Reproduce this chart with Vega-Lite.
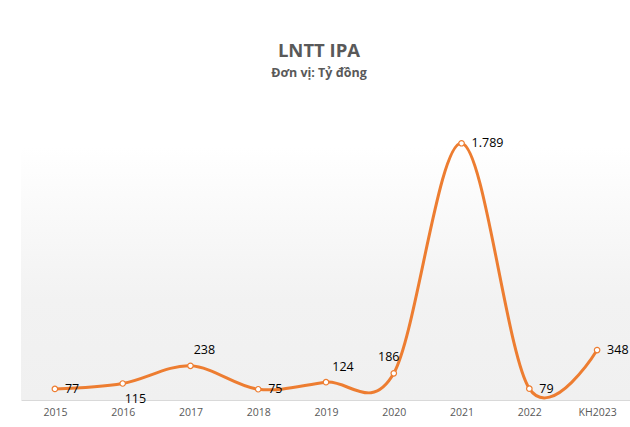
{
  "$schema": "https://vega.github.io/schema/vega-lite/v6.json",
  "width": 610,
  "height": 287,
  "autosize": {"type": "none"},
  "padding": {"left": 21, "top": 113, "right": 0, "bottom": 27},
  "background": "#ffffff",
  "config": {
    "view": {
      "stroke": null,
      "fill": {
        "gradient": "linear",
        "x1": 0, "y1": 0, "x2": 0, "y2": 1,
        "stops": [
          {"offset": 0, "color": "#ffffff"},
          {"offset": 0.12, "color": "#ffffff"},
          {"offset": 0.65, "color": "#f2f2f2"},
          {"offset": 1, "color": "#f0f0f0"}
        ]
      }
    },
    "font": "Open Sans"
  },
  "title": {
    "text": "LNTT IPA",
    "subtitle": "Đơn vị: Tỷ đồng",
    "anchor": "middle",
    "dx": -7,
    "offset": 34,
    "font": "Open Sans",
    "fontSize": 18.5,
    "fontWeight": "bold",
    "color": "#595959",
    "subtitleFont": "Open Sans",
    "subtitleFontSize": 12.5,
    "subtitleFontWeight": "bold",
    "subtitleColor": "#595959",
    "subtitlePadding": 6
  },
  "data": {
    "values": [
      {"year": "2015", "value": 77, "label": "77"},
      {"year": "2016", "value": 115, "label": "115"},
      {"year": "2017", "value": 238, "label": "238"},
      {"year": "2018", "value": 75, "label": "75"},
      {"year": "2019", "value": 124, "label": "124"},
      {"year": "2020", "value": 186, "label": "186"},
      {"year": "2021", "value": 1789, "label": "1.789"},
      {"year": "2022", "value": 79, "label": "79"},
      {"year": "KH2023", "value": 348, "label": "348"}
    ]
  },
  "encoding": {
    "x": {
      "field": "year",
      "type": "ordinal",
      "sort": null,
      "scale": {"type": "point", "padding": 0.5},
      "axis": {
        "title": null,
        "labelAngle": 0,
        "ticks": false,
        "domainColor": "#d9d9d9",
        "domainWidth": 1,
        "labelColor": "#595959",
        "labelFont": "Open Sans",
        "labelFontSize": 10.5,
        "labelPadding": 7,
        "grid": false
      }
    },
    "y": {
      "field": "value",
      "type": "quantitative",
      "scale": {"domain": [0, 2000], "nice": false},
      "axis": null
    }
  },
  "layer": [
    {
      "mark": {"type": "line", "interpolate": "cardinal", "color": "#ed7d31", "strokeWidth": 3, "clip": false}
    },
    {
      "mark": {"type": "point", "shape": "circle", "filled": true, "fill": "#ffffff", "stroke": "#ed7d31", "strokeWidth": 1.2, "size": 30, "opacity": 1}
    },
    {
      "transform": [{"filter": {"field": "year", "oneOf": ["2015", "2018", "2021", "2022", "KH2023"]}}],
      "mark": {"type": "text", "align": "left", "baseline": "middle", "dx": 10, "fontSize": 12.5, "color": "#000000", "font": "Open Sans"},
      "encoding": {"text": {"field": "label"}}
    },
    {
      "transform": [{"filter": {"field": "year", "equal": "2016"}}],
      "mark": {"type": "text", "align": "left", "baseline": "middle", "dx": 2, "dy": 16, "fontSize": 12.5, "color": "#000000", "font": "Open Sans"},
      "encoding": {"text": {"field": "label"}}
    },
    {
      "transform": [{"filter": {"field": "year", "equal": "2017"}}],
      "mark": {"type": "text", "align": "center", "baseline": "middle", "dx": 14, "dy": -16, "fontSize": 12.5, "color": "#000000", "font": "Open Sans"},
      "encoding": {"text": {"field": "label"}}
    },
    {
      "transform": [{"filter": {"field": "year", "equal": "2019"}}],
      "mark": {"type": "text", "align": "center", "baseline": "middle", "dx": 17, "dy": -15, "fontSize": 12.5, "color": "#000000", "font": "Open Sans"},
      "encoding": {"text": {"field": "label"}}
    },
    {
      "transform": [{"filter": {"field": "year", "equal": "2020"}}],
      "mark": {"type": "text", "align": "center", "baseline": "middle", "dx": -5, "dy": -16, "fontSize": 12.5, "color": "#000000", "font": "Open Sans"},
      "encoding": {"text": {"field": "label"}}
    }
  ]
}
